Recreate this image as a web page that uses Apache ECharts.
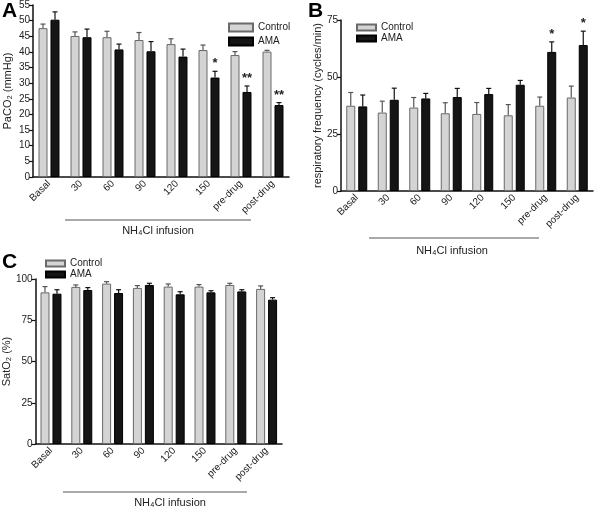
<!DOCTYPE html>
<html><head><meta charset="utf-8">
<script src="https://cdn.jsdelivr.net/npm/echarts@6/dist/echarts.min.js"></script>
<style>html,body{margin:0;padding:0;background:#fff}#c{width:600px;height:512px}</style>
</head><body><div id="c"></div>
<script>
const categories = ['Basal','30','60','90','120','150','pre-drug','post-drug'];

const paco2Control    = [47.6,45.1,44.7,43.8,42.5,40.6,39.0,40.1];
const paco2ControlErr = [1.3,1.3,1.9,2.4,1.7,1.6,1.1,0.4];
const paco2Ama        = [50.3,44.7,40.8,40.2,38.5,31.8,27.2,23.0];
const paco2AmaErr     = [2.5,2.6,1.7,3.1,2.4,2.0,1.9,0.8];
const paco2Sig        = ['','','','','','*','**','**'];

const respControl    = [37.4,34.4,36.6,34.1,33.8,33.2,37.4,41.0];
const respControlErr = [5.8,5.0,4.4,4.6,5.0,4.7,3.8,5.0];
const respAma        = [37.1,40.0,40.6,41.2,42.5,46.6,61.0,64.0];
const respAmaErr     = [5.0,5.1,2.2,3.8,2.5,1.9,4.4,6.1];
const respSig        = ['','','','','','','*','*'];

const satControl    = [91.9,95.2,97.2,94.6,95.4,95.4,96.4,94.0];
const satControlErr = [3.5,1.2,1.2,1.4,1.6,1.2,1.0,1.8];
const satAma        = [91.1,93.3,91.5,96.4,90.7,91.9,92.5,87.5];
const satAmaErr     = [2.4,1.5,2.0,1.0,1.6,1.0,1.0,1.2];
const satSig        = ['','','','','','','',''];

const FONT = '"Liberation Sans", Arial, "DejaVu Sans", sans-serif';
const BW = 9, HALF = 6;

function errSeries(g, vals, errs, side, color, stars) {
  return {
    type: 'custom', xAxisIndex: g, yAxisIndex: g, silent: true, z: 5,
    encode: {x: 0, y: 1},
    data: vals.map((v, i) => [i, v, errs[i]]),
    renderItem: function (params, api) {
      const i = api.value(0), v = api.value(1), e = api.value(2);
      const b = api.coord([i, v]);
      const t = api.coord([i, v + e]);
      const x = b[0] + side * HALF;
      const children = [
        {type: 'line', shape: {x1: x, y1: b[1], x2: x, y2: t[1]}, style: {stroke: color, lineWidth: 1.2}},
        {type: 'line', shape: {x1: x - 2.5, y1: t[1], x2: x + 2.5, y2: t[1]}, style: {stroke: color, lineWidth: 1.2}}
      ];
      const s = stars[params.dataIndex];
      if (s) children.push({type: 'text', style: {text: s, x: x, y: t[1] - 1, align: 'center', verticalAlign: 'bottom', font: 'bold 13px ' + FONT, fill: '#222'}});
      return {type: 'group', children: children};
    }
  };
}

function barSeries(g, name, vals, fill, border) {
  return {
    type: 'bar', name: name, xAxisIndex: g, yAxisIndex: g, data: vals,
    barWidth: BW, barGap: '33%',
    itemStyle: {color: fill, borderColor: border, borderWidth: 1}
  };
}

function xAx(g) {
  return {
    type: 'category', gridIndex: g, data: categories,
    axisLine: {lineStyle: {color: '#111', width: 1.5}},
    axisTick: {show: false},
    axisLabel: {rotate: 45, fontSize: 10, color: '#222', fontFamily: FONT, margin: 5, interval: 0}
  };
}
function yAx(g, max, interval, name, gap) {
  return {
    type: 'value', gridIndex: g, min: 0, max: max, interval: interval,
    name: name, nameLocation: 'middle', nameGap: gap, nameRotate: 90,
    nameTextStyle: {fontSize: 11, color: '#222', fontFamily: FONT},
    splitLine: {show: false},
    axisLine: {show: true, lineStyle: {color: '#111', width: 1.5}},
    axisTick: {show: true, length: 4, lineStyle: {color: '#111', width: 1.2}},
    axisLabel: {fontSize: 10, color: '#222', fontFamily: FONT, margin: 3}
  };
}
function legendAt(left, top, w, h, gap) {
  return {
    left: left, top: top, orient: 'vertical', itemWidth: w, itemHeight: h, itemGap: gap,
    icon: 'rect',
    data: ['Control', 'AMA'], selectedMode: false,
    textStyle: {fontSize: 10, color: '#222', fontFamily: FONT, lineHeight: 11}
  };
}

const CTRL = '#d4d4d4', CTRLB = '#6a6a6a', AMA = '#151515', AMAB = '#000';

const option = {
  animation: false,
  textStyle: {fontFamily: FONT},
  grid: [
    {left: 33, top: 5, width: 256, height: 172},
    {left: 341, top: 20, width: 252, height: 171},
    {left: 32, top: 279, width: 250, height: 165}
  ],
  xAxis: [xAx(0), xAx(1), xAx(2)],
  yAxis: [
    yAx(0, 55, 5, 'PaCO\u2082 (mmHg)', 20),
    yAx(1, 75, 25, 'respiratory frequency (cycles/min)', 18),
    yAx(2, 100, 25, 'SatO\u2082 (%)', 20)
  ],
  legend: [
    legendAt(223, 17, 24, 8, 3),
    legendAt(351, 17, 19, 6, 0),
    legendAt(40, 253, 19, 6, 0)
  ],
  series: [
    barSeries(0, 'Control', paco2Control, CTRL, CTRLB),
    barSeries(0, 'AMA', paco2Ama, AMA, AMAB),
    errSeries(0, paco2Control, paco2ControlErr, -1, '#555', categories.map(() => '')),
    errSeries(0, paco2Ama, paco2AmaErr, 1, '#111', paco2Sig),
    barSeries(1, 'Control', respControl, CTRL, CTRLB),
    barSeries(1, 'AMA', respAma, AMA, AMAB),
    errSeries(1, respControl, respControlErr, -1, '#555', categories.map(() => '')),
    errSeries(1, respAma, respAmaErr, 1, '#111', respSig),
    barSeries(2, 'Control', satControl, CTRL, CTRLB),
    barSeries(2, 'AMA', satAma, AMA, AMAB),
    errSeries(2, satControl, satControlErr, -1, '#555', categories.map(() => '')),
    errSeries(2, satAma, satAmaErr, 1, '#111', satSig)
  ],
  graphic: [
    {type: 'text', left: 2, top: 1, style: {text: 'A', font: 'bold 21px ' + FONT, fill: '#000'}},
    {type: 'text', left: 308, top: 1, style: {text: 'B', font: 'bold 21px ' + FONT, fill: '#000'}},
    {type: 'text', left: 2, top: 252, style: {text: 'C', font: 'bold 21px ' + FONT, fill: '#000'}},
    {type: 'line', shape: {x1: 65, y1: 220, x2: 251, y2: 220}, style: {stroke: '#555', lineWidth: 1}},
    {type: 'text', x: 158, y: 231, style: {text: 'NH\u2084Cl infusion', align: 'center', verticalAlign: 'middle', font: '11px ' + FONT, fill: '#222'}},
    {type: 'line', shape: {x1: 369, y1: 238, x2: 539, y2: 238}, style: {stroke: '#555', lineWidth: 1}},
    {type: 'text', x: 452, y: 251, style: {text: 'NH\u2084Cl infusion', align: 'center', verticalAlign: 'middle', font: '11px ' + FONT, fill: '#222'}},
    {type: 'line', shape: {x1: 63, y1: 492, x2: 247, y2: 492}, style: {stroke: '#555', lineWidth: 1}},
    {type: 'text', x: 170, y: 503, style: {text: 'NH\u2084Cl infusion', align: 'center', verticalAlign: 'middle', font: '11px ' + FONT, fill: '#222'}}
  ]
};
echarts.init(document.getElementById('c')).setOption(option);
</script></body></html>
